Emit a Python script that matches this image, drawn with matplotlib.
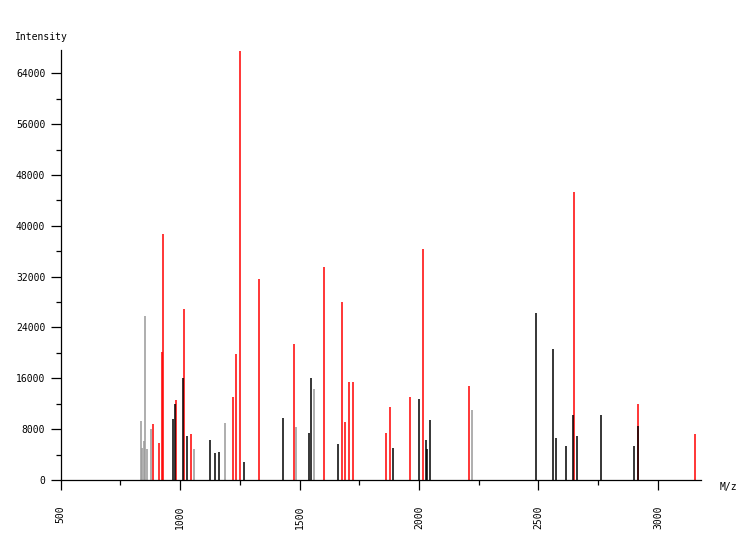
import matplotlib
matplotlib.use("Agg")
import matplotlib.pyplot as plt
from matplotlib.ticker import MultipleLocator

# peaks (m/z, intensity)
gray_mz = [838, 842, 850, 854, 863, 880, 1059, 1189, 1486, 1562, 2223]
gray_int = [9280, 5030, 6130, 25740, 4870, 8020, 4870, 8960, 8330, 14310, 11010]

red_mz = [888, 913, 926, 930, 984, 1018, 1047, 1223, 1235, 1252, 1331,
          1478, 1603, 1679, 1691, 1708, 1725, 1863, 1880, 1963, 2018,
          2210, 2650, 2917, 3156]
red_int = [8800, 5820, 20130, 38680, 12580, 26890, 7230, 13050, 19810, 67500, 31600,
           21380, 33490, 27990, 9120, 15410, 15410, 7390, 11480, 13050, 36320,
           14780, 45280, 11950, 7230]

black_mz = [972, 980, 1013, 1030, 1126, 1147, 1164, 1269, 1432, 1541, 1549,
            1662, 1892, 2001, 2030, 2034, 2047, 2488, 2562, 2574, 2616,
            2645, 2662, 2763, 2901, 2917]
black_int = [9590, 11950, 16040, 6920, 6290, 4250, 4400, 2830, 9750, 7390, 16040,
             5660, 5030, 12740, 6290, 4870, 9430, 26260, 20600, 6600, 5350,
             10220, 6920, 10220, 5350, 8490]

plt.rcParams['font.family'] = 'DejaVu Sans Mono'
plt.rcParams['font.size'] = 7

fig = plt.figure(figsize=(7.5, 5.4), dpi=100)
ax = fig.add_axes([0.0808, 0.1111, 0.8535, 0.7963])

# gray first, black last so it sits on top of red where they overlap
ax.vlines(gray_mz, 0, gray_int, colors='#999999', linewidth=1.1)
ax.vlines(red_mz, 0, red_int, colors='#ff0000', linewidth=1.1)
ax.vlines(black_mz, 0, black_int, colors='#000000', linewidth=1.1)

ax.set_xlim(500, 3179)
ax.set_ylim(0, 67665)

for side in ['top', 'right']:
    ax.spines[side].set_visible(False)
for side in ['left', 'bottom']:
    ax.spines[side].set_linewidth(0.9)

ax.xaxis.set_major_locator(MultipleLocator(500))
ax.xaxis.set_minor_locator(MultipleLocator(250))
ax.yaxis.set_major_locator(MultipleLocator(8000))
ax.yaxis.set_minor_locator(MultipleLocator(4000))

ax.tick_params(axis='both', which='major', length=7, width=0.9, direction='out')
ax.tick_params(axis='both', which='minor', length=3.6, width=0.9, direction='out')
ax.tick_params(axis='y', which='major', pad=4)
ax.tick_params(axis='x', which='major', pad=11, labelrotation=90)

fig.text(15 / 750, 1 - 37 / 540, 'Intensity', ha='left', va='center')
fig.text(720 / 750, 1 - 487 / 540, 'M/z', ha='left', va='center')

fig.savefig('out.png', dpi=100)
